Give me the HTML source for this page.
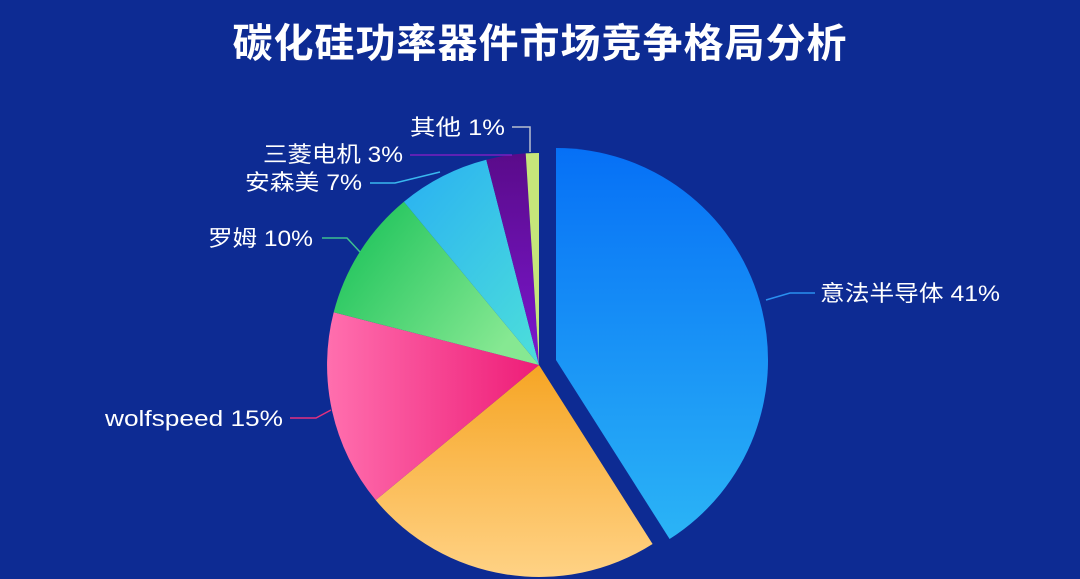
<!DOCTYPE html>
<html><head><meta charset="utf-8"><style>
html,body{margin:0;padding:0;}
body{width:1080px;height:579px;background:#0d2b93;overflow:hidden;}
svg{display:block}
text{font-family:"Liberation Sans","Noto Sans CJK SC",sans-serif;fill:#fff;}
</style></head><body>
<svg width="1080" height="579" viewBox="0 0 1080 579">
<defs>
<linearGradient id="gb" x1="0" y1="0" x2="0" y2="1"><stop offset="0" stop-color="#0670f6"/><stop offset="1" stop-color="#2bb4f6"/></linearGradient>
<linearGradient id="go" x1="0" y1="0" x2="0" y2="1"><stop offset="0" stop-color="#f6a524"/><stop offset="1" stop-color="#ffd285"/></linearGradient>
<linearGradient id="gp" x1="1" y1="0" x2="0" y2="0"><stop offset="0" stop-color="#ee1d78"/><stop offset="1" stop-color="#ff6fae"/></linearGradient>
<linearGradient id="gg" x1="0" y1="0" x2="1" y2="0.6"><stop offset="0" stop-color="#12bf55"/><stop offset="1" stop-color="#86e892"/></linearGradient>
<linearGradient id="gc" x1="0" y1="0" x2="0.8" y2="1"><stop offset="0" stop-color="#29b0f2"/><stop offset="1" stop-color="#4adbdc"/></linearGradient>
<linearGradient id="gv" x1="0" y1="0" x2="0" y2="1"><stop offset="0" stop-color="#5a0b8a"/><stop offset="1" stop-color="#7b17cf"/></linearGradient>
</defs>
<text x="540" y="57" text-anchor="middle" font-size="40" font-weight="bold" letter-spacing="1">碳化硅功率器件市场竞争格局分析</text>

<path d="M556,360 L556,148 A212,212 0 0 1 669.6,539 Z" fill="url(#gb)"/>
<path d="M539,365 L652.6,544 A212,212 0 0 1 375.7,500.1 Z" fill="url(#go)"/>
<path d="M539,365 L375.7,500.1 A212,212 0 0 1 333.7,312.3 Z" fill="url(#gp)"/>
<path d="M539,365 L333.7,312.3 A212,212 0 0 1 403.9,201.7 Z" fill="url(#gg)"/>
<path d="M539,365 L403.9,201.7 A212,212 0 0 1 486.3,159.7 Z" fill="url(#gc)"/>
<path d="M539,365 L486.3,159.7 A212,212 0 0 1 525.7,153.4 Z" fill="url(#gv)"/>
<path d="M539,365 L525.7,153.4 A212,212 0 0 1 539,153 Z" fill="#c6e67a"/>

<g fill="none" stroke-width="1.5">
<path d="M512,127 L530,127 L530,152" stroke="#b8c0d0"/>
<path d="M410,155 L512,155" stroke="#7a1fc0"/>
<path d="M370,183 L395,183 L440,172" stroke="#3ab8ef"/>
<path d="M322,238 L347,238 L360,252" stroke="#3dbf90"/>
<path d="M290,418 L316,418 L331,410" stroke="#e2307f"/>
<path d="M815,293 L790,293 L766,300" stroke="#2a90f0"/>
</g>
<g font-size="22">
<text x="410" y="135" textLength="95" lengthAdjust="spacingAndGlyphs">其他 1%</text>
<text x="263" y="162" textLength="140" lengthAdjust="spacingAndGlyphs">三菱电机 3%</text>
<text x="245" y="190" textLength="117" lengthAdjust="spacingAndGlyphs">安森美 7%</text>
<text x="208" y="246" textLength="105" lengthAdjust="spacingAndGlyphs">罗姆 10%</text>
<text x="105" y="426" textLength="178" lengthAdjust="spacingAndGlyphs">wolfspeed 15%</text>
<text x="820" y="301" textLength="180" lengthAdjust="spacingAndGlyphs">意法半导体 41%</text>
</g>
</svg>
</body></html>
